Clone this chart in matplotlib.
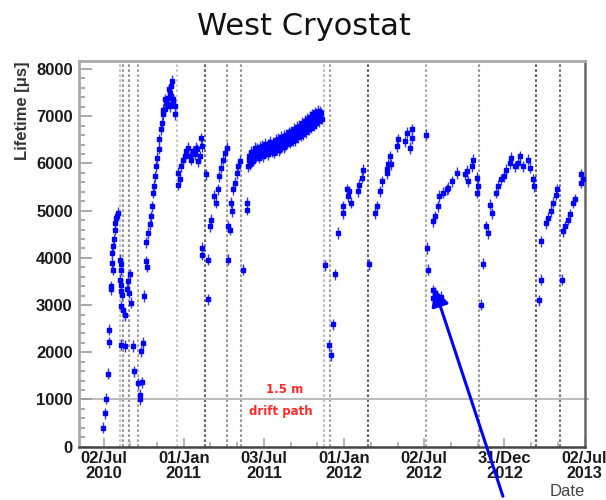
import numpy as np
import matplotlib
matplotlib.use("Agg")
import matplotlib.pyplot as plt

# ---- measured electron lifetime, x = days since 02/Jul/2010, y = lifetime [us]
p1_day = [-1, 4, 5, 9, 13, 13, 18, 18, 19, 21, 19, 21, 24, 26, 27, 29, 31, 33]
p1_tau = [400, 710, 1015, 1550, 2210, 2480, 3330, 3400, 3890, 3750, 4100, 4250,
          4390, 4600, 4740, 4850, 4880, 4960]

p2_day = [37, 39, 40.5, 37, 40.5, 39, 42, 39, 44, 48, 60, 56, 54, 57, 62, 40.5, 48,
          67, 90, 86, 69.5, 78.6, 88, 82, 82, 91.5, 99, 97.5]
p2_tau = [3960, 3860, 3750, 3540, 3430, 3290, 3220, 2970, 2900, 2780, 3650, 3500,
          3330, 3260, 3050, 2160, 2130, 2130, 2200, 2020, 1600, 1340, 1360, 1100,
          1000, 3190, 3810, 3930]

p3_day = [97.5, 101, 105, 109, 110, 113, 115, 117, 120, 122.5, 126, 127, 130, 133,
          135.5, 136, 139, 141, 143, 145, 147, 148.5, 150.7, 150.7, 154, 154, 156,
          158, 158, 162, 162]
p3_tau = [4330, 4530, 4710, 4880, 5090, 5380, 5520, 5730, 5940, 6120, 6310, 6510,
          6720, 6860, 7140, 7040, 7150, 7360, 7290, 7250, 7390, 7570, 7500, 7210,
          7640, 7430, 7750, 7360, 7320, 7210, 7040]

p4_day = [169.6, 169.6, 173.5, 177, 181, 185, 188.5, 192, 196, 200, 204, 208, 211,
          212, 216, 220, 222, 224, 232.7, 223.6, 225, 238.6, 238.6, 242.5, 244.8]
p4_tau = [5800, 5550, 5660, 5940, 6080, 6150, 6260, 6330, 6150, 6080, 6260, 6190,
          6330, 6300, 6050, 6150, 6530, 6370, 5770, 4070, 4210, 3960, 3120, 4670,
          4810]

p5_day = [252, 255.5, 260, 263, 267.5, 273, 277, 280.5, 283, 284, 288, 290, 292,
          295.6, 299.4, 303, 307, 311, 317, 326, 326]
p5_tau = [5310, 5170, 5450, 5730, 5910, 6080, 6230, 6330, 3960, 4670, 4600, 5170,
          4990, 5450, 5590, 5800, 5940, 6050, 3750, 5020, 5170]

# long stable run, first half of 2012 (two interleaved measurement sets)
p6a_day = [329, 332, 335, 338, 341, 344, 347, 350, 353, 356, 359, 362, 365, 368,
           371, 374, 377, 380, 383, 386, 389, 392, 395, 398, 401, 404, 407, 410,
           413, 416, 419, 422, 425, 428, 431, 434, 437, 440, 443, 446, 449, 452,
           455, 458, 461, 464, 467, 470, 473, 476, 479, 482, 485, 488, 491, 494, 497]
p6a_tau = [5940, 6080, 6020, 6190, 6060, 6280, 6150, 6320, 6180, 6350, 6190, 6380,
           6220, 6420, 6230, 6400, 6250, 6460, 6250, 6440, 6290, 6500, 6300, 6520,
           6330, 6560, 6360, 6580, 6390, 6600, 6420, 6660, 6440, 6680, 6480, 6730,
           6500, 6770, 6550, 6800, 6590, 6860, 6620, 6900, 6660, 6940, 6720, 6990,
           6760, 7040, 6800, 7080, 6860, 7120, 6900, 7100, 6950]
p6b_day = [330.5, 333.5, 336.5, 339.5, 342.5, 345.5, 348.5, 351.5, 354.5, 357.5,
           360.5, 363.5, 366.5, 369.5, 372.5, 375.5, 378.5, 381.5, 384.5, 387.5,
           390.5, 393.5, 396.5, 399.5, 402.5, 405.5, 408.5, 411.5, 414.5, 417.5,
           420.5, 423.5, 426.5, 429.5, 432.5, 435.5, 438.5, 441.5, 444.5, 447.5,
           450.5, 453.5, 456.5, 459.5, 462.5, 465.5, 468.5, 471.5, 474.5, 477.5,
           480.5, 483.5, 486.5, 489.5, 492.5, 495.5]
p6b_tau = [6150, 5980, 6250, 6110, 6200, 6330, 6200, 6260, 6120, 6300, 6250, 6160,
           6330, 6270, 6350, 6190, 6330, 6380, 6310, 6230, 6390, 6350, 6420, 6280,
           6450, 6410, 6480, 6350, 6500, 6470, 6530, 6580, 6500, 6620, 6560, 6640,
           6600, 6690, 6630, 6720, 6700, 6760, 6710, 6800, 6760, 6840, 6820, 6890,
           6850, 6930, 6900, 6960, 6920, 7020, 6990, 7060]

p7_day = [505, 513.5, 519, 522.6, 527, 534.6, 544.7, 546, 553.8, 557.4, 559.7, 563,
          580, 582.5, 588, 590]
p7_tau = [3840, 2150, 1940, 2590, 3650, 4530, 4940, 5090, 5450, 5310, 5410, 5170,
          5410, 5550, 5700, 5870]

p8_day = [605, 618, 622, 629.6, 633.5, 645, 648.5, 646, 652.4, 656, 667.6, 671.3,
          686.5, 690.4, 698, 701.8, 701.8]
p8_tau = [3860, 4950, 5090, 5410, 5620, 5800, 5980, 5880, 6150, 5980, 6370, 6510,
          6470, 6650, 6330, 6720, 6540]

p9_day = [734.3, 737.3, 739.6, 749.6, 751, 751, 754.8, 754.8, 758.7, 762.3, 764.6,
          770, 773.7, 781.5, 785, 793, 804.3, 823, 827, 830.6, 838.4, 842, 849.8,
          852, 853.4]
p9_tau = [6610, 4210, 3750, 4780, 3150, 3310, 3260, 4880, 3200, 5090, 5310, 3170,
          5380, 5450, 5480, 5620, 5800, 5770, 5840, 5620, 5940, 6080, 5700, 5380,
          5520]

p10_day = [861, 865, 872.5, 875, 881, 884, 895, 899, 906.7, 912.6, 918, 925.6, 929.5,
           937, 944.5, 948.4, 956, 967, 971, 978.7, 981]
p10_tau = [3010, 3880, 4670, 4530, 5130, 4940, 5380, 5520, 5660, 5730, 5870, 6010,
           6120, 5940, 6010, 6150, 5940, 6080, 5910, 5660, 5520]

p11_day = [991.6, 996, 997.8, 1009, 1012.8, 1020.6, 1024, 1032, 1034]
p11_tau = [3100, 3540, 4350, 4740, 4850, 4990, 5170, 5340, 5450]

p12_day = [1044.7, 1047, 1051, 1058, 1062, 1070, 1073.6, 1087, 1088.8, 1092.5]
p12_tau = [3540, 4560, 4670, 4810, 4920, 5170, 5240, 5590, 5770, 5660]

tau_err = 120  # typical measurement uncertainty [us]

# dates of purification / operation interventions (days since 02/Jul/2010)
event_day = [36.4, 43.3, 58, 78.6, 168, 231, 282, 313, 503, 515.6, 601.6, 734,
             855, 986, 1039.5]
event_shade = ["#c4c4c4", "#999999", "#999999", "#a4a4a4", "#cccccc", "#666666",
               "#9a9a9a", "#9a9a9a", "#bcbcbc", "#a4a4a4", "#666666", "#acacac",
               "#9a9a9a", "#666666", "#777777"]

drift_limit = 1000  # lifetime needed for a 1.5 m drift path [us]

tick_day = [0, 182.67, 365.33, 548, 730.67, 913.33, 1096]
tick_text = ["02/Jul\n2010", "01/Jan\n2011", "03/Jul\n2011", "01/Jan\n2012",
             "02/Jul\n2012", "31/Dec\n2012", "02/Jul\n2013"]

marked_point = (754.8, 3330)   # run pointed out by the arrow
arrow_tail = (910, -1050)

plt.rcParams['font.family'] = ['Liberation Sans', 'DejaVu Sans']

fig = plt.figure(figsize=(6.06, 5.0), dpi=100)
ax = fig.add_axes([79 / 606, 1 - 446.7 / 500, 506 / 606, 385.7 / 500])

ax.set_xlim(-56, 1097)
ax.set_ylim(0, 8170)

for d, c in zip(event_day, event_shade):
    ax.axvline(d, color=c, lw=1.5, ls=(0, (1.3, 1.1)), zorder=1)

ax.axhline(drift_limit, xmin=0, xmax=1.006, color="#bbbbbb", lw=1.4,
           clip_on=False, zorder=1)

all_day = np.concatenate([p1_day, p2_day, p3_day, p4_day, p5_day, p6a_day, p6b_day,
                          p7_day, p8_day, p9_day, p10_day, p11_day, p12_day])
all_tau = np.concatenate([p1_tau, p2_tau, p3_tau, p4_tau, p5_tau, p6a_tau, p6b_tau,
                          p7_tau, p8_tau, p9_tau, p10_tau, p11_tau, p12_tau])

ax.errorbar(all_day, all_tau, yerr=tau_err, fmt="s", ms=3.2, color="#0000ff",
            mec="#0000ff", ecolor="#3333ff", elinewidth=1.0, capsize=0, zorder=3)

ax.text(413, 1208, "1.5 m", color="#ff2a2a", fontsize=8.5, fontweight="bold",
        family="DejaVu Sans", ha="center", va="center", zorder=2)
ax.text(405, 742, "drift path", color="#ff2a2a", fontsize=8.5, fontweight="bold",
        family="DejaVu Sans", ha="center", va="center", zorder=2)

ax.annotate("", xy=marked_point, xytext=arrow_tail,
            arrowprops=dict(arrowstyle="-|>,head_length=0.75,head_width=0.4",
                            color="#0000ff", lw=2.2, shrinkA=0, shrinkB=0,
                            mutation_scale=13),
            annotation_clip=False, zorder=5)

# axes frame
ax.spines['left'].set_color("#aaaaaa")
ax.spines['left'].set_linewidth(2.0)
ax.spines['top'].set_color("#aaaaaa")
ax.spines['top'].set_linewidth(2.0)
ax.spines['bottom'].set_color("#454545")
ax.spines['bottom'].set_linewidth(1.8)
ax.spines['right'].set_color("#666666")
ax.spines['right'].set_linewidth(1.8)

ax.set_yticks(np.arange(0, 8001, 1000))
ax.set_yticks(np.arange(0, 8001, 200), minor=True)
ax.set_xticks(tick_day)
ax.set_xticklabels(tick_text)
ax.set_xticks([tick_day[0] + k * 1096 / 18 for k in range(19)], minor=True)

ax.tick_params(axis='y', which='major', direction='in', length=9, width=1.2,
               color="#9a9a9a", pad=4.5, labelsize=12, labelcolor="#1a1a1a")
ax.tick_params(axis='y', which='minor', direction='in', length=4.5, width=1.2,
               color="#9a9a9a")
ax.tick_params(axis='x', which='major', direction='in', length=6.5, width=1.2,
               color="#aaaaaa", pad=3, labelsize=12, labelcolor="#1a1a1a")
ax.tick_params(axis='x', which='minor', direction='in', length=3.5, width=1.2,
               color="#aaaaaa")
for lbl in ax.get_xticklabels() + ax.get_yticklabels():
    lbl.set_fontweight("bold")
for lbl in ax.get_xticklabels():
    lbl.set_linespacing(1.0)
# keep the last date label inside the canvas
ax.get_xticklabels()[-1].set_fontsize(11.5)

ax.set_ylabel("Lifetime [μs]", loc="top", fontsize=12, fontweight="bold",
              color="#333333")
ax.yaxis.set_label_coords((30 - 79) / 506, 1.0)
ax.set_xlabel("Date", loc="right", fontsize=12, color="#444444")
ax.xaxis.set_label_coords(1.0, (446.7 - 484) / 385.7)

ax.set_title("West Cryostat", family="DejaVu Sans", fontsize=22, color="#111111",
             x=(303.5 - 79) / 506, y=(446.7 - 35) / 385.7, pad=0)

fig.savefig("out.png", dpi=100)
